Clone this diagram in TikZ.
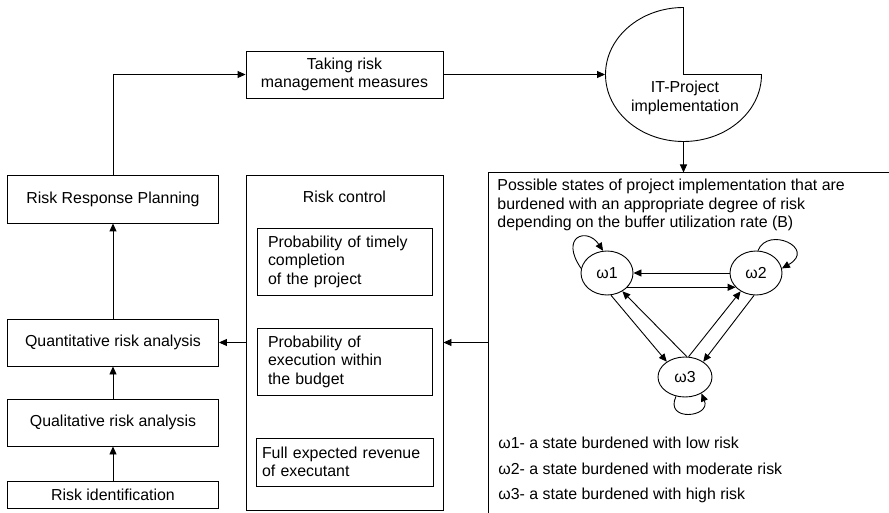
\documentclass[tikz,border=0pt]{standalone}
\usepackage{fontspec}
\setmainfont{Liberation Sans}
\usetikzlibrary{arrows.meta,shapes.geometric}
\begin{document}
\begin{tikzpicture}[
                x=1pt, y=1pt,
                font=\fontsize{15.9}{18.5}\selectfont,
                line width=0.9pt,
                box/.style={draw, rectangle, align=center, inner sep=0pt, minimum width=211pt},
                probbox/.style={draw, rectangle, align=left, inner sep=0pt, text width=153pt, minimum width=175pt, minimum height=67pt},
                state/.style={draw, ellipse, minimum width=52pt, minimum height=44pt, inner sep=0pt},
                legend/.style={anchor=west, inner sep=0pt},
                arr/.style={-{Triangle[length=8pt,width=7pt]}}
            ]
            \useasboundingbox (0,0) rectangle (889,512);

            % left column
            \node[box, minimum height=48pt] (rrp) at (113,313) {Risk Response Planning};
            \node[box, minimum height=47pt] (quant) at (113,169.5) {Quantitative risk analysis};
            \node[box, minimum height=47pt] (qual) at (113,89.5) {Qualitative risk analysis};
            \node[box, minimum height=27pt] (riskid) at (113,17.5) {Risk identification};

            % top row
            \node[box, minimum width=197pt, minimum height=47pt] (taking) at (344.5,437.5) {Taking risk\\management measures};
            \node[ellipse, minimum width=156pt, minimum height=134pt] (itp) at (683.5,437.5) {};
            \draw (itp.center) -- ++(0,67) arc[start angle=90, end angle=360, x radius=78pt, y radius=67pt] -- cycle;
            \node[align=center] (itptext) at (685,414) {IT-Project\\implementation};

            % risk control
            \node[box, minimum width=197pt, minimum height=335pt] (control) at (344.5,169.5) {};
            \node (controltitle) at (344.5,315) {Risk control};
            \node[probbox] (timely) at (344.5,250.5) {Probability of timely\\completion\\of the project};
            \node[probbox] (budget) at (344.5,150.5) {Probability of\\execution within\\the budget};
            \node[probbox, text width=165pt, minimum width=177pt, minimum height=48pt] (revenue) at (344.5,50) {Full expected revenue\\of executant};

            % states of the project
            \coordinate (rtopright) at (889,339.5);
            \coordinate (rtopleft) at (488.5,339.5);
            \coordinate (rbottom) at (488.5,-2);
            \draw (rtopright) -- (rtopleft) -- (rbottom);
            \node[align=left, anchor=west, inner sep=0pt] (states) at (497,307) {Possible states of project implementation that are\\burdened with an appropriate degree of risk\\depending on the buffer utilization rate (B)};

            \node[state] (w1) at (607,239) {ω1};
            \node[state] (w2) at (756,239) {ω2};
            \node[state, minimum width=54pt, minimum height=40pt] (w3) at (685,135) {ω3};

            \draw[arr] (w2.west) -- (w1.east);
            \draw[arr] (w1.-35) -- (w2.-145);
            \draw[arr] (w1.-80) -- (w3.140);
            \draw[arr] (w3.85) -- (w1.-50);
            \draw[arr] (w3.80) -- (w2.-130);
            \draw[arr] (w2.-95) -- (w3.40);
            \draw[arr] (w1.170) .. controls +(-22,32) and +(-16,24) .. (w1.100);
            \draw[arr] (w2.85) .. controls +(10,25) and +(35,20) .. (w2.10);
            \draw[arr] (w3.-115) .. controls +(-12,-26) and +(10,-24) .. (w3.-45);

            \node[legend] (leg1) at (498,69) {ω1- a state burdened with low risk};
            \node[legend] (leg2) at (498,43) {ω2- a state burdened with moderate risk};
            \node[legend] (leg3) at (498,17) {ω3- a state burdened with high risk};

            % connections
            \draw[arr] (rrp.north) |- (taking.west);
            \draw[arr] (taking.east) -- (itp.west);
            \draw[arr] (itp.south) -- (itp.south |- rtopleft);
            \draw[arr] (rtopleft |- control.east) -- (control.east);
            \draw[arr] (control.west) -- (control.west -| quant.east);
            \draw[arr] (quant) -- (rrp);
            \draw[arr] (qual) -- (quant);
            \draw[arr] (riskid) -- (qual);

        \end{tikzpicture}
\end{document}
